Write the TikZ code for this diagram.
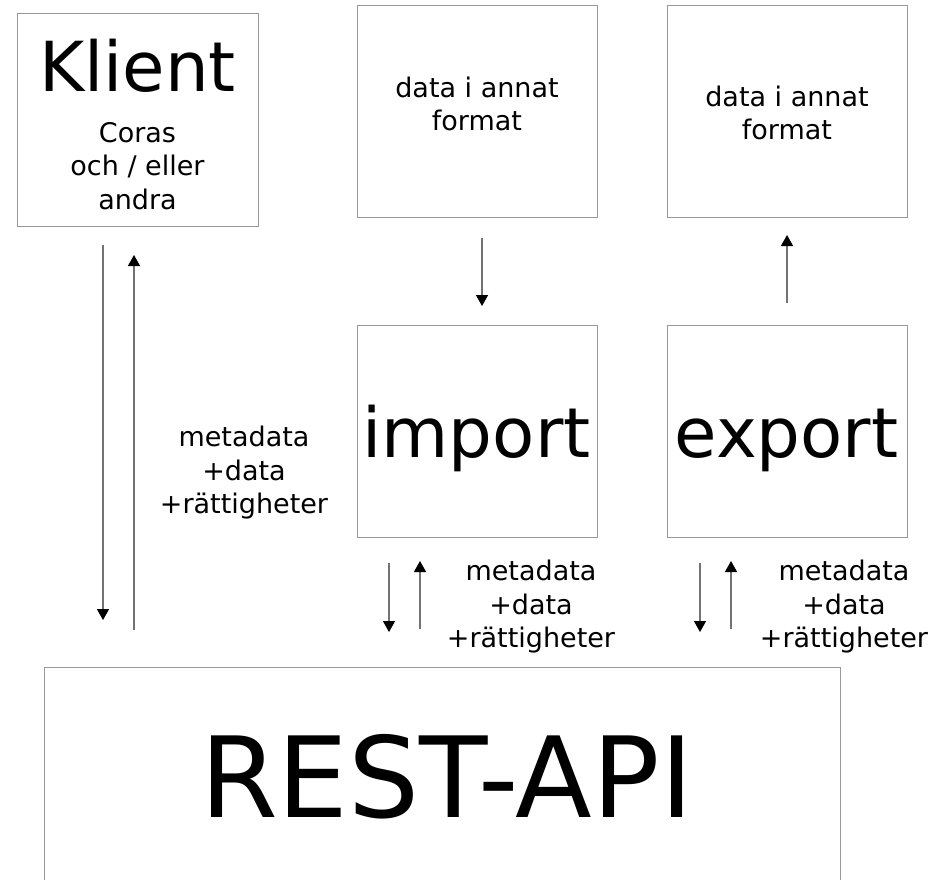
\documentclass[tikz,border=0pt]{standalone}
\usepackage{fontspec}
\setmainfont{DejaVu Sans}
\usetikzlibrary{arrows.meta}
\begin{document}
\begin{tikzpicture}[x=1pt,y=-1pt,
  box/.style={draw=black!40, line width=1pt, inner sep=0pt},
  arr/.style={draw=black!55, line width=1.4pt, -{Triangle[length=11pt,width=12pt,color=black]}},
  small/.style={font=\fontsize{27}{33.5}\selectfont, align=center, inner sep=0pt},
  big/.style={font=\fontsize{69}{80}\selectfont, inner sep=0pt, anchor=base},
  huge/.style={font=\fontsize{112}{120}\selectfont, inner sep=0pt, anchor=base}]
\useasboundingbox (0,0) rectangle (933,879);
\fill[white] (0,0) rectangle (933,879);
% boxes
\draw[box] (17,13) rectangle (258,226) node[pos=.5, inner sep=0pt] (klient) {};
\draw[box] (357,5) rectangle (597,217) node[pos=.5, inner sep=0pt] (srcbox) {};
\draw[box] (667,5) rectangle (907,217) node[pos=.5, inner sep=0pt] (dstbox) {};
\draw[box] (357,325) rectangle (597,537) node[pos=.5, inner sep=0pt] (importbox) {};
\draw[box] (667,325) rectangle (907,537) node[pos=.5, inner sep=0pt] (exportbox) {};
\draw[box] (44,667) rectangle (840,884) node[pos=.5, inner sep=0pt] (restbox) {};
% texts
\node[big] (klienttxt) at (137.5,91) {Klient};
\node[small] (corastxt) at (137.5,166) {Coras\\och / eller\\andra};
\node[small] (srctxt) at (477,104) {data i annat\\format};
\node[small] (dsttxt) at (787,113) {data i annat\\format};
\node[big] (importtxt) at (476.5,457) {import};
\node[big] (exporttxt) at (786.5,457) {export};
\node[huge] (resttxt) at (446.5,817) {REST-API};
\node[small] (lblk) at (244,473) {metadata\\+data\\+rättigheter};
\node[small] (lbli) at (531,607) {metadata\\+data\\+rättigheter};
\node[small] (lble) at (844,607) {metadata\\+data\\+rättigheter};
% arrow endpoints
\coordinate (kd1) at (103,245); \coordinate (kd2) at (103,620);
\coordinate (ku1) at (134,630); \coordinate (ku2) at (134,255);
\coordinate (id1) at (389,563); \coordinate (id2) at (389,632);
\coordinate (iu1) at (420,629); \coordinate (iu2) at (420,561);
\coordinate (ed1) at (700,563); \coordinate (ed2) at (700,632);
\coordinate (eu1) at (731,629); \coordinate (eu2) at (731,561);
\coordinate (td1) at (482,238); \coordinate (td2) at (482,306);
\coordinate (tu1) at (787,303); \coordinate (tu2) at (787,235);
\draw[arr] (kd1) -- (kd2);
\draw[arr] (ku1) -- (ku2);
\draw[arr] (id1) -- (id2);
\draw[arr] (iu1) -- (iu2);
\draw[arr] (ed1) -- (ed2);
\draw[arr] (eu1) -- (eu2);
\draw[arr] (td1) -- (td2);
\draw[arr] (tu1) -- (tu2);
\end{tikzpicture}
\end{document}
